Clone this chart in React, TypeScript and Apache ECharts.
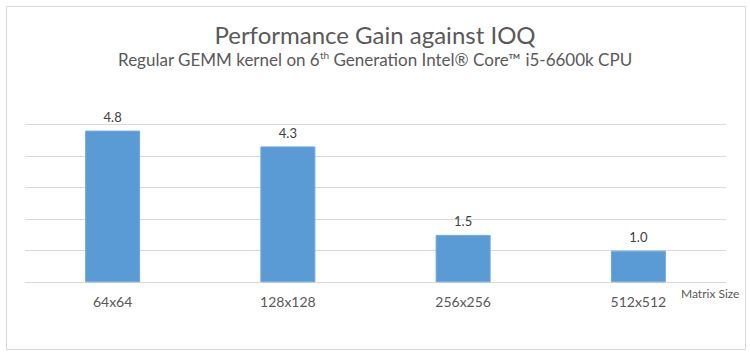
import React, { useEffect, useRef } from "react";
import * as echarts from "echarts";

const categories = ["64x64", "128x128", "256x256", "512x512"];
const gains = [4.8, 4.3, 1.5, 1.0];
const titleText = "Performance Gain against IOQ";
const subtitleText = "Regular GEMM kernel on 6{sup|th} Generation Intel® Core™ i5-6600k CPU";
const axisName = "Matrix Size";

export default function App() {
  const ref = useRef<HTMLDivElement>(null);
  useEffect(() => {
    const chart = echarts.init(ref.current!, undefined, { renderer: "svg" });
    const font = "Lato, 'Open Sans', sans-serif";
    chart.setOption({
      animation: false,
      backgroundColor: "#ffffff",
      title: [
        {
          text: titleText,
          left: "center",
          top: 17,
          textStyle: { fontFamily: font, fontSize: 24, fontWeight: "normal", color: "#595959" },
        },
        {
          text: subtitleText,
          left: "center",
          top: 45,
          textStyle: {
            fontFamily: font,
            fontSize: 17,
            fontWeight: "normal",
            color: "#595959",
            rich: {
              sup: { fontFamily: font, fontSize: 10, color: "#595959", verticalAlign: "top", padding: [0, 0, 9, 0] },
            },
          },
        },
      ],
      grid: { left: 25, right: 24, top: 124.3, bottom: 75.7, containLabel: false },
      xAxis: {
        type: "category",
        data: categories,
        axisLine: { show: true, lineStyle: { color: "#D9D9D9", width: 1 } },
        axisTick: { show: false },
        axisLabel: { color: "#595959", fontSize: 14, fontFamily: font, margin: 12 },
      },
      yAxis: {
        type: "value",
        min: 0,
        max: 5,
        interval: 1,
        axisLine: { show: false },
        axisTick: { show: false },
        axisLabel: { show: false },
        splitLine: { lineStyle: { color: "#D9D9D9", width: 1 } },
      },
      series: [
        {
          type: "bar",
          data: gains,
          barWidth: 55,
          itemStyle: { color: "#5B9BD5", borderColor: "#6FA8DC", borderWidth: 1 },
          label: {
            show: true,
            position: "top",
            distance: 7,
            color: "#404040",
            fontSize: 13,
            fontFamily: font,
            formatter: (p: any) => Number(p.value).toFixed(1),
          },
        },
      ],
      graphic: [
        {
          type: "rect",
          shape: { x: 6.5, y: 6.5, width: 739, height: 343 },
          style: { fill: "none", stroke: "#D9D9D9", lineWidth: 1 },
          silent: true,
        },
        {
          type: "text",
          x: 681,
          y: 293,
          style: {
            text: axisName,
            fill: "#595959",
            fontSize: 12,
            fontFamily: font,
            textVerticalAlign: "middle",
          },
        },
      ],
    });
    return () => chart.dispose();
  }, []);
  return <div ref={ref} style={{ width: 750, height: 358, position: "absolute", left: 0, top: 0 }} />;
}
